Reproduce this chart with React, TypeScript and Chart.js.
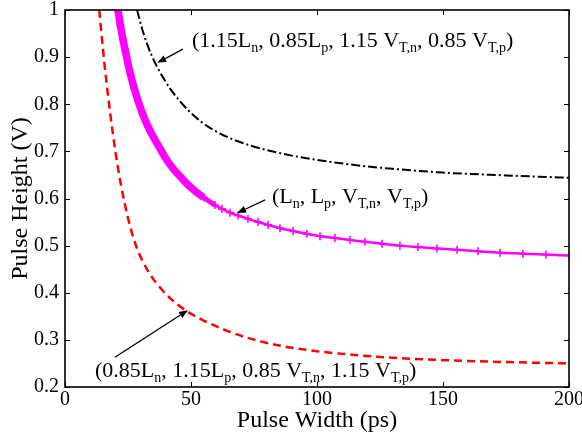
import React, { useEffect, useRef } from "react";
import { Chart, registerables } from "chart.js";

Chart.register(...registerables);

// ---- data ----
const xTickValues = [0, 50, 100, 150, 200];
const xTickLabels = ["0", "50", "100", "150", "200"];
const yTickValues = [0.2, 0.3, 0.4, 0.5, 0.6, 0.7, 0.8, 0.9, 1.0];
const yTickLabels = ["0.2", "0.3", "0.4", "0.5", "0.6", "0.7", "0.8", "0.9", "1"];

// nominal (Ln, Lp, VT,n, VT,p) - magenta with + markers
const nominalX = [21, 22, 23, 24, 25, 26, 27.5, 29, 31, 33, 35, 37.5, 40, 43, 46, 49, 52, 55,
  59.5, 62.3, 65.5, 68.7, 72.6, 76.6, 80.6, 85.3, 90.5, 96, 101.2, 107.1, 113.1, 119, 125.8,
  132.9, 140.1, 147.6, 155.6, 163.9, 172.6, 181.7, 190.9, 200];
const nominalY = [1.0, 0.967, 0.937, 0.912, 0.886, 0.863, 0.833, 0.807, 0.777, 0.752, 0.731, 0.708,
  0.685, 0.663, 0.645, 0.628, 0.614, 0.602, 0.586, 0.578, 0.57, 0.564, 0.557, 0.55, 0.544, 0.537,
  0.531, 0.525, 0.52, 0.516, 0.512, 0.508, 0.504, 0.5, 0.497, 0.494, 0.491, 0.488, 0.485, 0.483,
  0.481, 0.479];

// (1.15Ln, 0.85Lp, 1.15 VT,n, 0.85 VT,p) - black dash-dot
const highX = [28.6, 30.5, 32.5, 34.5, 36.5, 39, 42, 45.5, 49.5, 54, 59, 65, 72, 80, 90, 100, 115,
  130, 150, 175, 200];
const highY = [1.0, 0.962, 0.929, 0.902, 0.88, 0.856, 0.831, 0.807, 0.784, 0.763, 0.745, 0.729,
  0.715, 0.703, 0.691, 0.682, 0.671, 0.663, 0.655, 0.649, 0.644];

// (0.85Ln, 1.15Lp, 0.85 VT,n, 1.15 VT,p) - red dashed
const lowX = [13.6, 15, 16.5, 18, 20, 22, 24, 26, 28.5, 31, 34, 37.7, 42, 48, 55, 63, 72, 85, 100,
  115, 130, 150, 175, 200];
const lowY = [1.0, 0.92, 0.845, 0.778, 0.7, 0.635, 0.582, 0.538, 0.495, 0.465, 0.437, 0.411, 0.387,
  0.362, 0.341, 0.322, 0.305, 0.288, 0.276, 0.268, 0.262, 0.257, 0.253, 0.25];

const xTitle = "Pulse Width (ps)";
const yTitle = "Pulse Height (V)";

type Part = [string, boolean];
const annHigh: Part[] = [["(1.15L", false], ["n", true], [", 0.85L", false], ["p", true],
  [", 1.15 V", false], ["T,n", true], [", 0.85 V", false], ["T,p", true], [")", false]];
const annNom: Part[] = [["(L", false], ["n", true], [", L", false], ["p", true], [", V", false],
  ["T,n", true], [", V", false], ["T,p", true], [")", false]];
const annLow: Part[] = [["(0.85L", false], ["n", true], [", 1.15L", false], ["p", true],
  [", 0.85 V", false], ["T,n", true], [", 1.15 V", false], ["T,p", true], [")", false]];

// annotation anchors in data units: text start, arrow tail, arrow head
const annotations = [
  { parts: annHigh, text: [50.4, 0.922], tail: [46.8, 0.917], head: [36.6, 0.888] },
  { parts: annNom, text: [82.1, 0.591], tail: [79.4, 0.597], head: [68.3, 0.569] },
  { parts: annLow, text: [11.9, 0.222], tail: [19.8, 0.263], head: [48.8, 0.363] },
];

const FONT = '"Liberation Serif", "Times New Roman", serif';

function toPoints(xs: number[], ys: number[]) {
  return xs.map((x, i) => ({ x, y: ys[i] }));
}

const framePlugin = {
  id: "frameAndNotes",
  afterDatasetsDraw(chart: any) {
    const { ctx, chartArea: a, scales } = chart;
    const xs = scales.x;
    const ys = scales.y;
    ctx.save();
    ctx.strokeStyle = "#000";
    ctx.lineWidth = 1.6;
    ctx.strokeRect(a.left, a.top, a.right - a.left, a.bottom - a.top);
    const L = 5;
    ctx.lineWidth = 1;
    ctx.beginPath();
    xTickValues.forEach((v) => {
      const px = Math.round(xs.getPixelForValue(v)) + 0.5;
      ctx.moveTo(px, a.bottom);
      ctx.lineTo(px, a.bottom - L);
      ctx.moveTo(px, a.top);
      ctx.lineTo(px, a.top + L);
    });
    yTickValues.forEach((v) => {
      const py = Math.round(ys.getPixelForValue(v)) + 0.5;
      ctx.moveTo(a.left, py);
      ctx.lineTo(a.left + L, py);
      ctx.moveTo(a.right, py);
      ctx.lineTo(a.right - L, py);
    });
    ctx.stroke();

    // annotations
    ctx.fillStyle = "#000";
    ctx.textBaseline = "alphabetic";
    ctx.textAlign = "left";
    annotations.forEach((an) => {
      let cx = xs.getPixelForValue(an.text[0]);
      const by = ys.getPixelForValue(an.text[1]);
      an.parts.forEach(([t, sub]) => {
        ctx.font = sub ? `14px ${FONT}` : `22px ${FONT}`;
        ctx.fillText(t, cx, sub ? by + 5 : by);
        cx += ctx.measureText(t).width;
      });
      const tx = xs.getPixelForValue(an.tail[0]);
      const ty = ys.getPixelForValue(an.tail[1]);
      const hx = xs.getPixelForValue(an.head[0]);
      const hy = ys.getPixelForValue(an.head[1]);
      const ang = Math.atan2(hy - ty, hx - tx);
      const hl = 9, hw = 3.5;
      const bx = hx - hl * Math.cos(ang);
      const byy = hy - hl * Math.sin(ang);
      ctx.lineWidth = 1.3;
      ctx.beginPath();
      ctx.moveTo(tx, ty);
      ctx.lineTo(bx, byy);
      ctx.stroke();
      ctx.beginPath();
      ctx.moveTo(hx, hy);
      ctx.lineTo(bx + hw * Math.sin(ang), byy - hw * Math.cos(ang));
      ctx.lineTo(bx - hw * Math.sin(ang), byy + hw * Math.cos(ang));
      ctx.closePath();
      ctx.fill();
    });
    ctx.restore();
  },
};

export default function App() {
  const ref = useRef<HTMLCanvasElement | null>(null);
  useEffect(() => {
    document.body.style.margin = "0";
    if (!ref.current) return;
    const chart = new Chart(ref.current, {
      type: "line",
      data: {
        datasets: [
          {
            label: "low",
            data: toPoints(lowX, lowY),
            borderColor: "#ff0000",
            borderWidth: 2.5,
            borderDash: [8, 5],
            pointRadius: 0,
            cubicInterpolationMode: "monotone",
          },
          {
            label: "high",
            data: toPoints(highX, highY),
            borderColor: "#000000",
            borderWidth: 2,
            borderDash: [9, 3, 2, 3],
            pointRadius: 0,
            cubicInterpolationMode: "monotone",
          },
          {
            label: "nominal",
            data: toPoints(nominalX, nominalY),
            borderColor: "#ff00ff",
            borderWidth: 2.5,
            pointStyle: "cross",
            pointRadius: 4,
            pointBorderWidth: 1.6,
            pointBorderColor: "#ff00ff",
            pointBackgroundColor: "#ff00ff",
            cubicInterpolationMode: "monotone",
            segment: {
              borderWidth: (c: any) =>
                c.p0.parsed.x < 55 ? 7.5 : c.p0.parsed.x < 59 ? 5 : 2.5,
            },
          } as any,
        ],
      },
      options: {
        animation: false,
        responsive: true,
        maintainAspectRatio: false,
        devicePixelRatio: 1,
        layout: { padding: { left: 0, right: 13, top: 10, bottom: 0 } },
        plugins: { legend: { display: false }, tooltip: { enabled: false } },
        scales: {
          x: {
            type: "linear",
            min: 0,
            max: 200,
            grid: { display: false, drawTicks: false },
            border: { display: false },
            afterBuildTicks: (s: any) => {
              s.ticks = xTickValues.map((v) => ({ value: v }));
            },
            afterFit: (s: any) => {
              s.height = 54;
              s.paddingLeft = 0;
              s.paddingRight = 0;
            },
            ticks: {
              padding: 1,
              color: "#000",
              font: { family: FONT, size: 20 },
              maxRotation: 0,
              callback: (_v: any, i: number) => xTickLabels[i],
            },
            title: {
              display: true,
              text: xTitle,
              color: "#000",
              font: { family: FONT, size: 24 },
              padding: { top: 0, bottom: 6 },
            },
          },
          y: {
            type: "linear",
            min: 0.2,
            max: 1,
            grid: { display: false, drawTicks: false },
            border: { display: false },
            afterBuildTicks: (s: any) => {
              s.ticks = yTickValues.map((v) => ({ value: v }));
            },
            afterFit: (s: any) => {
              s.width = 65;
              s.paddingTop = 0;
              s.paddingBottom = 0;
            },
            ticks: {
              padding: 6,
              color: "#000",
              font: { family: FONT, size: 20 },
              callback: (_v: any, i: number) => yTickLabels[i],
            },
            title: {
              display: true,
              text: yTitle,
              color: "#000",
              font: { family: FONT, size: 24 },
              padding: { top: 6, bottom: 0 },
            },
          },
        },
      },
      plugins: [framePlugin],
    });
    return () => chart.destroy();
  }, []);
  return (
    <div style={{ position: "relative", width: 582, height: 441 }}>
      <canvas ref={ref} />
    </div>
  );
}
